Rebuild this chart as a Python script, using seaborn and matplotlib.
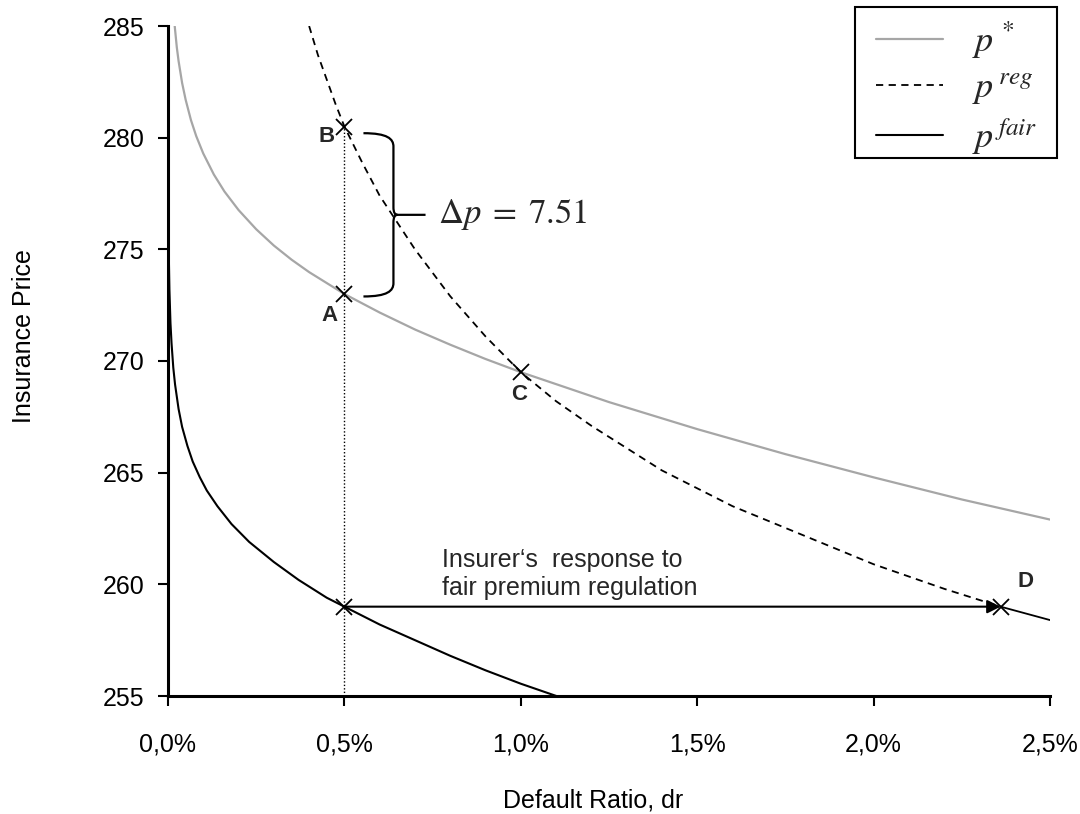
import matplotlib
matplotlib.use("Agg")
import matplotlib.pyplot as plt
from matplotlib.path import Path
from matplotlib.patches import PathPatch, Rectangle
import seaborn as sns

# default ratio in percent, price levels
pstar_dr = [0.019, 0.025, 0.03, 0.04, 0.05, 0.065, 0.08, 0.1, 0.13, 0.16, 0.2, 0.25, 0.3, 0.35, 0.4,
            0.5, 0.6, 0.7, 0.8, 0.9, 1.0, 1.25, 1.5, 1.75, 2.0, 2.25, 2.5]
pstar_price = [285.0, 284.04, 283.43, 282.45, 281.7, 280.79, 280.07, 279.29, 278.35, 277.59, 276.76,
               275.9, 275.17, 274.54, 273.98, 273.0, 272.17, 271.41, 270.73, 270.09, 269.5, 268.16,
               266.95, 265.83, 264.79, 263.8, 262.9]

preg_dr = [0.40, 0.425, 0.45, 0.475, 0.5, 0.55, 0.6, 0.7, 0.8, 0.9, 1.0, 1.1, 1.2, 1.4, 1.6, 1.8, 2.0,
           2.2, 2.36, 2.5]
preg_price = [285.0, 283.7, 282.6, 281.5, 280.5, 278.9, 277.4, 275.0, 272.9, 271.1, 269.5, 268.2, 267.1,
              265.1, 263.5, 262.2, 260.9, 259.8, 259.0, 258.4]

pfair_dr = [0.002, 0.004, 0.007, 0.01, 0.015, 0.02, 0.03, 0.04, 0.055, 0.07, 0.09, 0.11, 0.14, 0.18,
            0.23, 0.3, 0.37, 0.45, 0.5, 0.6, 0.7, 0.8, 0.9, 1.0, 1.11]
pfair_price = [275.0, 273.2, 271.7, 270.8, 269.7, 268.95, 267.85, 267.05, 266.2, 265.5, 264.8, 264.2,
               263.5, 262.7, 261.9, 261.0, 260.2, 259.4, 259.0, 258.2, 257.5, 256.8, 256.15, 255.55,
               254.95]

# marked points
point_names = ["A", "B", "C", "D"]
point_dr = [0.5, 0.5, 1.0, 2.36]
point_price = [272.99, 280.50, 269.5, 259.0]
fair_point = (0.5, 259.0)
delta_p = 7.51

x_ticks = [0.0, 0.5, 1.0, 1.5, 2.0, 2.5]
y_ticks = [255, 260, 265, 270, 275, 280, 285]

sns.set_theme(style="white")
plt.rcParams["font.family"] = ["Liberation Sans", "DejaVu Sans"]
plt.rcParams["mathtext.fontset"] = "stix"

fig = plt.figure(figsize=(10.8, 8.14), dpi=100)
ax = fig.add_axes([168 / 1080, 1 - 696 / 814, 882 / 1080, 670 / 814])

sns.lineplot(x=pstar_dr, y=pstar_price, ax=ax, color="#a6a6a6", lw=1.6,
             estimator=None, sort=False, label=r"$p^{\,*}$")
d_idx = preg_dr.index(2.36)
sns.lineplot(x=preg_dr[:d_idx + 1], y=preg_price[:d_idx + 1], ax=ax, color="black", lw=1.3,
             linestyle=(0, (4, 3)), estimator=None, sort=False, label=r"$p^{\,reg}$")
sns.lineplot(x=preg_dr[d_idx:], y=preg_price[d_idx:], ax=ax, color="black", lw=1.3,
             estimator=None, sort=False)
sns.lineplot(x=pfair_dr, y=pfair_price, ax=ax, color="black", lw=1.5,
             estimator=None, sort=False, label=r"$p^{\,fair}$")

# dotted guide at dr = 0.5%
ax.plot([0.5, 0.5], [255, point_price[1]], color="black", lw=1.0, ls=(0, (1, 1.5)))

# crosses
ax.plot(point_dr + [fair_point[0]], point_price + [fair_point[1]], ls="none", marker="x",
        color="black", markersize=11, mew=1.3)

offsets = {"A": (-11, -15), "B": (-13, -7), "C": (-1, -16), "D": (18, 18)}
for name, x, y in zip(point_names, point_dr, point_price):
    ax.annotate(name, (x, y), xytext=offsets[name], textcoords="offset points",
                ha="center", va="center", fontsize=16, fontweight="bold")

# arrow from the fair premium to D
ax.annotate("", xy=(point_dr[3], point_price[3]), xytext=fair_point,
            arrowprops=dict(arrowstyle="-|>", color="black", lw=1.5, mutation_scale=20,
                            shrinkA=0, shrinkB=0))
ax.text(0.778, 259.3, "Insurer\u2018s  response to\nfair premium regulation",
        fontsize=18, ha="left", va="bottom", linespacing=1.2)

# curly brace between A and B
top = point_price[1] - 0.3
bot = point_price[0] - 0.1
mid = (top + bot) / 2
xa, xv, xt = 0.554, 0.639, 0.73
verts = [(xa, top), (xv - 0.017, top), (xv, top - 0.25), (xv, top - 0.6),
         (xv, mid + 0.35),
         (xv, mid + 0.1), (xv + 0.004, mid), (xv + 0.012, mid),
         (xt, mid),
         (xv + 0.012, mid),
         (xv + 0.004, mid), (xv, mid - 0.1), (xv, mid - 0.35),
         (xv, bot + 0.6),
         (xv, bot + 0.25), (xv - 0.017, bot), (xa, bot)]
codes = [Path.MOVETO, Path.CURVE4, Path.CURVE4, Path.CURVE4,
         Path.LINETO,
         Path.CURVE4, Path.CURVE4, Path.CURVE4,
         Path.LINETO,
         Path.MOVETO,
         Path.CURVE4, Path.CURVE4, Path.CURVE4,
         Path.LINETO,
         Path.CURVE4, Path.CURVE4, Path.CURVE4]
ax.add_patch(PathPatch(Path(verts, codes), fill=False, lw=1.6, color="black"))
ax.text(0.765, mid, r"$\Delta p\;=\;7.51$", fontsize=25, ha="left", va="center")

ax.set_xlim(0, 2.5)
ax.set_ylim(255, 285)
ax.set_xticks(x_ticks)
ax.set_xticklabels([f"{v:.1f}%".replace(".", ",") for v in x_ticks])
ax.set_yticks(y_ticks)
ax.tick_params(axis="both", direction="out", length=7, width=1.5, color="black",
               labelsize=18, labelcolor="black", bottom=True, left=True)
ax.tick_params(axis="x", pad=19)
ax.tick_params(axis="y", pad=10)
for s in ["top", "right"]:
    ax.spines[s].set_visible(False)
for s in ["left", "bottom"]:
    ax.spines[s].set_color("black")
    ax.spines[s].set_linewidth(2.2)

ax.set_xlabel("Default Ratio, dr", fontsize=18, color="black")
ax.set_ylabel("Insurance Price", fontsize=18, color="black")
ax.xaxis.set_label_coords(0.482, -0.138)
ax.yaxis.set_label_coords(-0.150, 0.537)

# legend with a separate box so the padding can match the original
ax.add_patch(Rectangle((0.779, 0.803), 0.229, 0.225, transform=ax.transAxes, fill=False,
                       ec="black", lw=1.5, clip_on=False, zorder=5))
leg = ax.legend(loc="center left", bbox_to_anchor=(0.803, 0.907), borderaxespad=0,
                fontsize=26, handlelength=1.86, labelspacing=0.27, handletextpad=0.8,
                frameon=False, borderpad=0)

fig.savefig("out.png", dpi=100)
